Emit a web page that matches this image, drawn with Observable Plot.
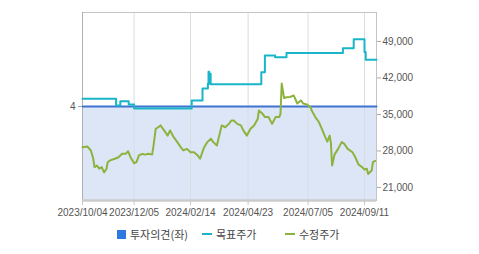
<!DOCTYPE html>
<html>
<head>
<meta charset="utf-8">
<script src="https://cdn.jsdelivr.net/npm/d3@7"></script>
<script src="https://cdn.jsdelivr.net/npm/@observablehq/plot@0.6"></script>
<style>
  body { margin: 0; background: #fff; }
  #wrap { position: relative; width: 479px; height: 254px; overflow: hidden; }
  #legend { position: absolute; left: 0; top: 225px; width: 479px; height: 18px;
            font-family: "Noto Sans CJK KR", "Noto Sans", sans-serif; font-size: 11px; color: #444; }
  .item { position: absolute; top: 0; height: 18px; display: flex; align-items: center; white-space: nowrap; }
  .sw { display: inline-block; margin-right: 4px; }
</style>
</head>
<body>
<div id="wrap">
  <div id="chart"></div>
  <div id="legend"></div>
</div>
<script>
// ---- data (x = trading-day index from 2023/10/04) ----
const tickIdx = [0, 43, 90, 138, 188, 235];
const tickLabels = ["2023/10/04", "2023/12/05", "2024/02/14", "2024/04/23", "2024/07/05", "2024/09/11"];
const priceTicks = [21000, 28000, 35000, 42000, 49000];
const priceDomain = [18500, 54560];
const opinionDomain = [0, 8];
const opinionTick = 4;

const opinionIdx = [0, 245];
const opinionVal = [4, 4];

const targetIdx = [0, 28, 31.5, 38.5, 43, 91, 100, 104.5, 105, 105.6, 106.2, 106.8, 149, 152, 160.5, 170, 217, 226, 235, 236, 245];
const targetVal = [38000, 36700, 37550, 36900, 36150, 37700, 40000, 40900, 43200, 40900, 42800, 40800, 43100, 46300, 46000, 46800, 47700, 49450, 47000, 45500, 45500];

const priceIdx = [0, 4, 7, 9, 10, 12, 14, 16, 18, 20, 21, 23, 27, 30, 33, 36, 38, 40, 43, 45,
  47, 50, 52, 55, 58, 59, 61, 63, 65, 68, 71, 73, 76, 79, 82, 84, 87, 90, 93, 96,
  98, 101, 104, 107, 109, 112, 115, 116, 119, 122, 124, 126, 129, 132, 134, 137, 140, 143, 146, 147,
  150, 152, 155, 158, 161, 164, 165, 166, 168, 170, 173, 176, 179, 182, 184, 187, 190, 191, 194, 197,
  200, 202, 204, 206, 207, 208, 210, 213, 216, 218, 221, 225, 227, 230, 233, 235, 237, 238, 241, 242, 244];
const priceVal = [28700, 28850, 28100, 26500, 24900, 25200, 24600, 24900, 23900, 24600, 25850, 26200, 26500, 26800, 27450, 27450, 27950, 26800, 25650, 25850,
  27150, 27450, 27300, 27450, 27300, 28700, 32250, 32550, 32900, 31950, 30950, 31950, 30650, 29700, 28700, 28100, 28400, 27750, 27750, 27150,
  26500, 28500, 29700, 30350, 29700, 29050, 31950, 32900, 32550, 33200, 33850, 33850, 33200, 32900, 31950, 30950, 32250, 32900, 34150, 35750,
  35150, 34500, 34500, 33200, 34500, 34500, 35150, 40950, 38150, 38300, 38350, 38650, 37100, 37700, 37100, 36900, 36400, 35750, 34500, 33550,
  31950, 30800, 29800, 30950, 29550, 25200, 27300, 28400, 29700, 29400, 28400, 27750, 26950, 25400, 24900, 24450, 24600, 23600, 24250, 25850, 26100];

const seriesNames = ["투자의견(좌)", "목표주가", "수정주가"];
const colors = { opinion: "#3f72d0", fill: "#dce6f6", swatch: "#2e79e0", target: "#19b5c9", price: "#8cb33e" };

// ---- build tables ----
const toPrice = d3.scaleLinear(opinionDomain, priceDomain);
const opinion = opinionIdx.map((i, k) => ({ i, v: opinionVal[k] }));
const target = targetIdx.map((i, k) => ({ i, v: targetVal[k] }));
const price = priceIdx.map((i, k) => ({ i, v: priceVal[k] }));

const chart = Plot.plot({
  width: 479,
  height: 222,
  marginTop: 12,
  marginBottom: 22,
  marginLeft: 82,
  marginRight: 103,
  style: { fontFamily: "'Liberation Sans', Arial, sans-serif", fontSize: "10px", color: "#555", background: "#fff", overflow: "visible" },
  x: { domain: [0, 245], label: null },
  y: { domain: priceDomain, label: null },
  marks: [
    Plot.areaY(opinion, { x: "i", y1: () => toPrice(0), y2: d => toPrice(d.v), fill: colors.fill }),
    Plot.ruleX(tickIdx.slice(1), { stroke: "#d9dde3", strokeWidth: 1, y1: priceDomain[0], y2: priceDomain[1] }),
    Plot.frame({ stroke: "#c4c4c4" }),
    Plot.ruleX([0], { stroke: "#b0b0b0", y1: priceDomain[0], y2: priceDomain[1] }),
    Plot.ruleY([priceDomain[0]], { stroke: "#cbcbcb", strokeWidth: 2.5 }),
    Plot.lineY(opinion, { x: "i", y: d => toPrice(d.v), stroke: colors.opinion, strokeWidth: 2 }),
    Plot.line(target, { x: "i", y: "v", curve: "step-after", stroke: colors.target, strokeWidth: 2 }),
    Plot.line(price, { x: "i", y: "v", stroke: colors.price, strokeWidth: 2, strokeLinejoin: "round" }),
    Plot.axisX(tickIdx, { anchor: "bottom", tickFormat: d => tickLabels[tickIdx.indexOf(d)], tickSize: 5, tickPadding: 3, stroke: "#c8c8c8", fill: "#555", label: null }),
    Plot.axisY(priceTicks, { anchor: "right", tickFormat: d3.format(","), tickSize: 4, tickPadding: 2, stroke: "#aaa", fill: "#555", label: null }),
    Plot.axisY([toPrice(opinionTick)], { anchor: "left", tickFormat: () => String(opinionTick), tickSize: 4, tickPadding: 3, stroke: "#aaa", fill: "#555", label: null })
  ]
});
document.getElementById("chart").appendChild(chart);

// ---- legend ----
const legend = document.getElementById("legend");
const items = [
  { name: seriesNames[0], left: 117, sw: `<span class="sw" style="width:9px;height:9px;background:${colors.swatch}"></span>` },
  { name: seriesNames[1], left: 202, sw: `<span class="sw" style="width:10px;height:2px;background:${colors.target}"></span>` },
  { name: seriesNames[2], left: 285, sw: `<span class="sw" style="width:10px;height:2px;background:${colors.price}"></span>` }
];
for (const it of items) {
  const el = document.createElement("div");
  el.className = "item";
  el.style.left = it.left + "px";
  el.innerHTML = it.sw + `<span>${it.name}</span>`;
  legend.appendChild(el);
}
</script>
</body>
</html>
